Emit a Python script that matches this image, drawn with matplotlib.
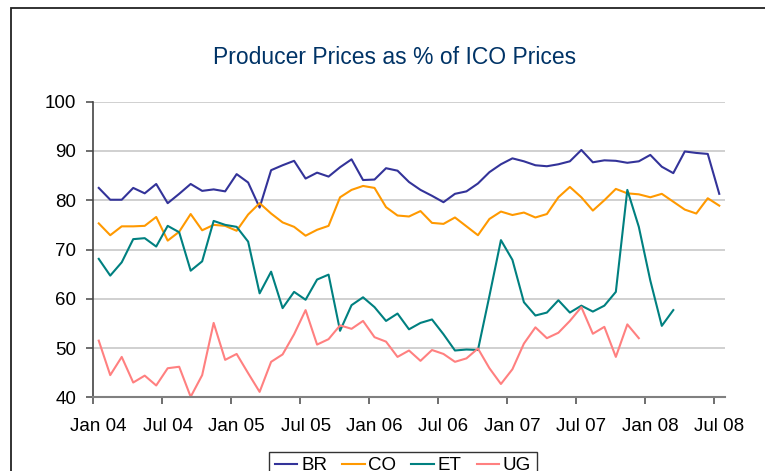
import matplotlib
matplotlib.use("Agg")
import matplotlib.pyplot as plt
from matplotlib.patches import Rectangle

plt.rcParams["font.family"] = ["Liberation Sans", "DejaVu Sans"]

# monthly series, Jan 04 .. Jul 08
months = ["Jan 04", "Jul 04", "Jan 05", "Jul 05", "Jan 06",
          "Jul 06", "Jan 07", "Jul 07", "Jan 08", "Jul 08"]

br = [82.5, 80.1, 80.1, 82.5, 81.4, 83.3, 79.4, 81.3, 83.3, 81.9, 82.2, 81.8,
      85.3, 83.6, 78.5, 86.1, 87.1, 88.0, 84.4, 85.6, 84.8, 86.7, 88.3, 84.1,
      84.2, 86.5, 86.0, 83.7, 82.1, 80.9, 79.6, 81.3, 81.8, 83.4, 85.7, 87.3,
      88.5, 87.9, 87.1, 86.9, 87.3, 87.9, 90.2, 87.7, 88.1, 88.0, 87.6, 87.9,
      89.2, 86.8, 85.5, 89.9, 89.6, 89.4, 81.3]
co = [75.3, 72.9, 74.7, 74.7, 74.8, 76.6, 71.8, 73.6, 77.2, 73.9, 75.0, 74.8,
      73.8, 77.1, 79.4, 77.3, 75.5, 74.6, 72.8, 74.0, 74.8, 80.6, 82.1, 82.9,
      82.5, 78.6, 76.9, 76.7, 77.8, 75.4, 75.2, 76.5, 74.7, 72.9, 76.2, 77.7,
      77.0, 77.5, 76.5, 77.2, 80.6, 82.7, 80.6, 77.9, 80.0, 82.3, 81.4, 81.2,
      80.6, 81.3, 79.7, 78.1, 77.3, 80.4, 78.9]
et = [68.1, 64.7, 67.4, 72.1, 72.3, 70.6, 74.8, 73.5, 65.7, 67.6, 75.8, 75.0,
      74.6, 71.6, 61.1, 65.5, 58.1, 61.4, 59.8, 63.9, 64.9, 53.5, 58.7, 60.3,
      58.3, 55.5, 57.0, 53.8, 55.1, 55.8, 52.8, 49.5, 49.7, 49.6, 60.6, 71.9,
      67.9, 59.3, 56.6, 57.2, 59.7, 57.2, 58.6, 57.4, 58.6, 61.4, 82.1, 74.6,
      63.7, 54.5, 57.7]
ug = [51.5, 44.5, 48.2, 43.0, 44.4, 42.4, 45.9, 46.2, 40.1, 44.5, 55.1, 47.6,
      48.8, 44.9, 41.1, 47.2, 48.7, 52.8, 57.7, 50.7, 51.8, 54.6, 53.9, 55.5,
      52.2, 51.3, 48.2, 49.5, 47.4, 49.6, 48.8, 47.2, 47.9, 49.9, 45.9, 42.7,
      45.7, 50.9, 54.2, 52.0, 53.1, 55.5, 58.3, 52.9, 54.3, 48.2, 54.8, 52.0]

series = [("BR", br, "#333399"), ("CO", co, "#FF9900"),
          ("ET", et, "#008080"), ("UG", ug, "#FF8080")]

fig = plt.figure(figsize=(7.65, 4.71), dpi=100)
ax = fig.add_axes([93 / 765, 1 - 397.3 / 471, 632 / 765, 295.6 / 471])

for name, vals, col in series:
    ax.plot(range(len(vals)), vals, color=col, lw=1.5, label=name)

n = len(br)
ax.set_xlim(-0.5, n - 0.5)
ax.set_ylim(40, 100)
ax.set_yticks(range(40, 101, 10))
# tick marks sit between months, labels on the month itself
ax.set_xticks([i - 0.5 for i in range(0, n, 6)])
ax.set_xticklabels([])
ax.set_xticks(list(range(0, n, 6)), minor=True)
ax.set_xticklabels(months, minor=True)
ax.tick_params(axis="x", which="minor", length=0, pad=15, labelsize=13.5)
ax.tick_params(axis="x", which="major", length=5, color="#555555", width=1.2)
ax.tick_params(axis="y", length=5, color="#555555", width=1.2, pad=7, labelsize=13.5)
ax.grid(axis="y", color="#C8C8C8", lw=1.2)
ax.set_axisbelow(True)
for s in ["top", "right"]:
    ax.spines[s].set_visible(False)
ax.spines["left"].set_color("#444444")
ax.spines["bottom"].set_color("#808080")
ax.spines["left"].set_linewidth(1.2)
ax.spines["bottom"].set_linewidth(1.5)

fig.text(395 / 765, 1 - 58 / 471, "Producer Prices as % of ICO Prices",
         ha="center", va="center", fontsize=16.5, color="#003366")

leg = fig.legend(loc="upper center", bbox_to_anchor=(403 / 765, 1 - 451.7 / 471),
                 ncol=4, fontsize=13.5, frameon=True, fancybox=False,
                 handlelength=1.2, handletextpad=0.2, columnspacing=0.8,
                 borderpad=0.3, borderaxespad=0)
leg.get_frame().set_edgecolor("black")
leg.get_frame().set_linewidth(1.0)

fig.patches.append(Rectangle((11 / 765, -0.2), 1.2, 1.2 - 8 / 471,
                             transform=fig.transFigure, fill=False,
                             edgecolor="#222222", lw=1.3, clip_on=False))

fig.savefig("out.png", dpi=100)
